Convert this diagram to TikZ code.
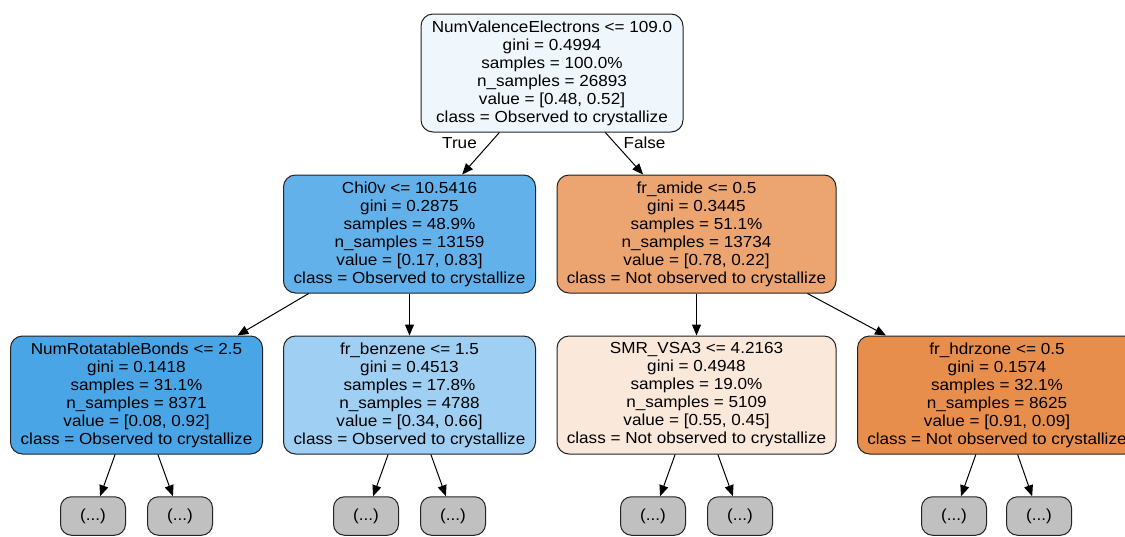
\documentclass[tikz,border=0pt]{standalone}
\usepackage{fontspec}
\setmainfont{Liberation Sans}[FakeStretch=1.07]
\usetikzlibrary{arrows.meta}

% Decision-tree node fills (blue = observed, orange = not observed)
\definecolor{rootfill}{HTML}{F0F7FC}
\definecolor{chifill}{HTML}{62B1EA}
\definecolor{rotfill}{HTML}{4AA5E7}
\definecolor{benzfill}{HTML}{9FCFF2}
\definecolor{amidefill}{HTML}{ECA471}
\definecolor{smrfill}{HTML}{FAE8DB}
\definecolor{hdrzfill}{HTML}{E88E4D}
\definecolor{leaffill}{HTML}{C0C0C0}
\definecolor{edgegray}{HTML}{222222}

\tikzset{
  treenode/.style={draw=edgegray, line width=1pt, rounded corners=12pt,
    align=center, inner sep=0pt, minimum height=118pt,
    font=\fontsize{16}{18}\selectfont},
  leafnode/.style={draw=edgegray, line width=1pt, rounded corners=11pt,
    fill=leaffill, inner sep=0pt, minimum width=65pt, minimum height=38.5pt,
    font=\fontsize{16}{18}\selectfont},
  edgelabel/.style={inner sep=0pt, font=\fontsize{16}{18}\selectfont},
  treeedge/.style={draw=black, line width=1pt,
    -{Triangle[length=11pt,width=9pt]}},
}

\begin{document}
\begin{tikzpicture}[x=1pt,y=-1pt]
\useasboundingbox (0,0) rectangle (1125,536);
\clip (0,0) rectangle (1125,536);

% root
\node[treenode, fill=rootfill, minimum width=262pt] (root) at (552,73)
  {NumValenceElectrons <= 109.0\\gini = 0.4994\\samples = 100.0\%\\n\_samples = 26893\\value = [0.48, 0.52]\\class = Observed to crystallize};

% second level
\node[treenode, fill=chifill, minimum width=252pt] (chi) at (409.5,234)
  {Chi0v <= 10.5416\\gini = 0.2875\\samples = 48.9\%\\n\_samples = 13159\\value = [0.17, 0.83]\\class = Observed to crystallize};
\node[treenode, fill=amidefill, minimum width=279pt] (amide) at (696.5,234)
  {fr\_amide <= 0.5\\gini = 0.3445\\samples = 51.1\%\\n\_samples = 13734\\value = [0.78, 0.22]\\class = Not observed to crystallize};

% third level
\node[treenode, fill=rotfill, minimum width=252pt] (rot) at (136.5,395)
  {NumRotatableBonds <= 2.5\\gini = 0.1418\\samples = 31.1\%\\n\_samples = 8371\\value = [0.08, 0.92]\\class = Observed to crystallize};
\node[treenode, fill=benzfill, minimum width=252pt] (benz) at (409.5,395)
  {fr\_benzene <= 1.5\\gini = 0.4513\\samples = 17.8\%\\n\_samples = 4788\\value = [0.34, 0.66]\\class = Observed to crystallize};
\node[treenode, fill=smrfill, minimum width=279pt] (smr) at (696.5,395)
  {SMR\_VSA3 <= 4.2163\\gini = 0.4948\\samples = 19.0\%\\n\_samples = 5109\\value = [0.55, 0.45]\\class = Not observed to crystallize};
\node[treenode, fill=hdrzfill, minimum width=279pt] (hdrz) at (997,395)
  {fr\_hdrzone <= 0.5\\gini = 0.1574\\samples = 32.1\%\\n\_samples = 8625\\value = [0.91, 0.09]\\class = Not observed to crystallize};

% truncated subtrees
\node[leafnode] (rotA)  at (93,516)  {(...)};
\node[leafnode] (rotB)  at (180,516) {(...)};
\node[leafnode] (benzA) at (366,516) {(...)};
\node[leafnode] (benzB) at (453,516) {(...)};
\node[leafnode] (smrA)  at (653,516) {(...)};
\node[leafnode] (smrB)  at (740,516) {(...)};
\node[leafnode] (hdrzA) at (954,516) {(...)};
\node[leafnode] (hdrzB) at (1039,516) {(...)};

% edges
\draw[treeedge] (root) -- (chi);
\draw[treeedge] (root) -- (amide);
\draw[treeedge] (chi) -- (rot);
\draw[treeedge] (chi) -- (benz);
\draw[treeedge] (amide) -- (smr);
\draw[treeedge] (amide) -- (hdrz);
\draw[treeedge] (rot) -- (rotA);
\draw[treeedge] (rot) -- (rotB);
\draw[treeedge] (benz) -- (benzA);
\draw[treeedge] (benz) -- (benzB);
\draw[treeedge] (smr) -- (smrA);
\draw[treeedge] (smr) -- (smrB);
\draw[treeedge] (hdrz) -- (hdrzA);
\draw[treeedge] (hdrz) -- (hdrzB);

% branch labels
\node[edgelabel] (truelbl)  at (459.5,143) {True};
\node[edgelabel] (falselbl) at (644.5,143) {False};
\end{tikzpicture}
\end{document}
